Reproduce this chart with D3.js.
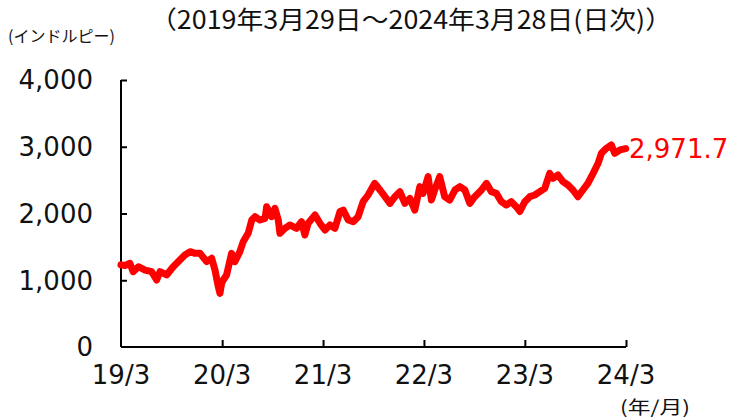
<!DOCTYPE html>
<html>
<head>
<meta charset="utf-8">
<script src="https://cdn.jsdelivr.net/npm/d3@7"></script>
<style>
  html, body { margin: 0; padding: 0; background: #fff; }
  svg { display: block; }
</style>
</head>
<body>
<svg id="chart" width="732" height="419"></svg>
<script>
// ---- data ----
const dates = [
  "2019-03-29","2019-04-12","2019-04-30","2019-05-12","2019-05-31","2019-06-24","2019-07-18","2019-08-05",
  "2019-08-17","2019-09-10","2019-10-04","2019-10-28","2019-11-15","2019-12-04","2019-12-22","2020-01-09",
  "2020-02-02","2020-02-20","2020-03-03","2020-03-15","2020-03-21","2020-03-27","2020-04-02","2020-04-14",
  "2020-05-02","2020-05-14","2020-06-01","2020-06-13","2020-07-01","2020-07-14","2020-07-26","2020-08-13",
  "2020-08-31","2020-09-06","2020-09-24","2020-10-06","2020-10-18","2020-10-24","2020-11-11","2020-11-29",
  "2020-12-23","2021-01-10","2021-01-22","2021-02-03","2021-02-28","2021-03-18","2021-04-05","2021-04-23",
  "2021-05-11","2021-05-29","2021-06-10","2021-06-28","2021-07-16","2021-08-03","2021-08-21","2021-09-08",
  "2021-10-02","2021-10-21","2021-11-08","2021-11-26","2021-12-14","2022-01-01","2022-01-19","2022-02-06",
  "2022-02-24","2022-03-14","2022-03-26","2022-04-13","2022-04-25","2022-05-07","2022-05-25","2022-06-12",
  "2022-06-30","2022-07-19","2022-08-06","2022-08-24","2022-09-11","2022-09-29","2022-10-23","2022-11-10",
  "2022-11-28","2022-12-16","2023-01-03","2023-01-21","2023-02-08","2023-02-26","2023-03-11","2023-03-29",
  "2023-04-16","2023-05-04","2023-05-22","2023-06-09","2023-06-27","2023-07-09","2023-07-27","2023-08-14",
  "2023-09-01","2023-09-19","2023-10-07","2023-10-25","2023-11-12","2023-12-01","2023-12-19","2023-12-31",
  "2024-01-18","2024-02-05","2024-02-17","2024-03-07","2024-03-28"
];
const values = [
  1230,1220,1254,1128,1203,1153,1128,1004,
  1128,1079,1203,1303,1378,1428,1403,1403,
  1278,1329,1153,903,804,954,1004,1079,
  1403,1278,1428,1577,1703,1902,1952,1902,
  1927,2102,1952,2077,1902,1703,1778,1828,
  1778,1877,1678,1853,1977,1853,1753,1828,
  1778,2027,2052,1902,1877,1952,2177,2277,
  2452,2352,2252,2152,2252,2327,2152,2227,
  2052,2402,2302,2552,2202,2352,2552,2252,
  2202,2352,2402,2352,2152,2252,2352,2452,
  2327,2302,2177,2127,2177,2102,2030,2177,
  2252,2277,2327,2377,2602,2527,2577,2477,
  2427,2352,2252,2352,2452,2602,2752,2902,
  2977,3027,2902,2952,2971.7
];
const xTickDates = ["2019-03-29","2020-03-29","2021-03-29","2022-03-29","2023-03-29","2024-03-29"];
const xTickLabels = ["19/3","20/3","21/3","22/3","23/3","24/3"];
const yTicks = [0,1000,2000,3000,4000];
const lastLabel = "2,971.7";
const titleText = "（2019年3月29日～2024年3月28日(日次)）";
const unitText = "(インドルピー)";
const xUnitText = "(年/月)";

// ---- chart ----
(function () {
const parse = d3.timeParse("%Y-%m-%d");
const data = dates.map((d, i) => ({ date: parse(d), value: values[i] }));

const svg = d3.select("#chart");
const mLeft = 121, mRight = 626, mTop = 80, mBottom = 347;

const x = d3.scaleTime()
  .domain([parse(xTickDates[0]), parse(xTickDates[xTickDates.length - 1])])
  .range([mLeft, mRight]);
const y = d3.scaleLinear().domain([0, 4000]).range([mBottom, mTop]);

const numFont = "'DejaVu Sans', sans-serif";
const jpFont = "'Noto Sans CJK JP', sans-serif";

// y axis
const yAxis = svg.append("g")
  .attr("transform", `translate(${mLeft},0)`)
  .call(d3.axisRight(y).tickValues(yTicks).tickSize(6).tickFormat(""));
yAxis.select(".domain").attr("stroke", "#000").attr("stroke-width", 2).attr("d", `M0,${mTop}V${mBottom}`);
yAxis.selectAll(".tick line").attr("stroke", "#000").attr("stroke-width", 2)
  .filter(d => d === 0).remove();

svg.append("g").selectAll("text").data(yTicks).join("text")
  .attr("x", 93).attr("y", d => y(d))
  .attr("dy", "0.36em")
  .attr("text-anchor", "end")
  .attr("font-family", numFont).attr("font-size", 26).attr("fill", "#111")
  .text(d => d3.format(",")(d));

// x axis
const xAxis = svg.append("g")
  .attr("transform", `translate(0,${mBottom})`)
  .call(d3.axisTop(x).tickValues(xTickDates.map(parse)).tickSize(7).tickFormat(""));
xAxis.select(".domain").attr("stroke", "#000").attr("stroke-width", 2).attr("d", `M${mLeft},0H${mRight}`);
xAxis.selectAll(".tick line").attr("stroke", "#000").attr("stroke-width", 2)
  .filter((d, i) => i === 0).remove();

svg.append("g").selectAll("text").data(xTickDates).join("text")
  .attr("x", d => x(parse(d))).attr("y", 384)
  .attr("text-anchor", "middle")
  .attr("font-family", numFont).attr("font-size", 26).attr("fill", "#111")
  .text((d, i) => xTickLabels[i]);

// line
const line = d3.line().x(d => x(d.date)).y(d => y(d.value)).curve(d3.curveLinear);
svg.append("path").datum(data)
  .attr("d", line)
  .attr("fill", "none").attr("stroke", "#ff0000").attr("stroke-width", 7)
  .attr("stroke-linejoin", "round").attr("stroke-linecap", "round");

// last value label
const last = data[data.length - 1];
svg.append("text")
  .attr("x", 629).attr("y", y(last.value))
  .attr("dy", "0.36em")
  .attr("font-family", numFont).attr("font-size", 26).attr("fill", "#ff0000")
  .text(lastLabel);

// title & units
svg.append("text").attr("x", 150).attr("y", 29)
  .attr("font-family", jpFont).attr("font-size", 25).attr("fill", "#111")
  .attr("textLength", 522).attr("lengthAdjust", "spacingAndGlyphs")
  .text(titleText);
svg.append("text").attr("x", 8).attr("y", 42)
  .attr("font-family", jpFont).attr("font-size", 16).attr("fill", "#111")
  .attr("textLength", 107).attr("lengthAdjust", "spacingAndGlyphs")
  .text(unitText);
svg.append("text").attr("x", 620).attr("y", 414)
  .attr("font-family", jpFont).attr("font-size", 18).attr("fill", "#111")
  .attr("textLength", 70).attr("lengthAdjust", "spacingAndGlyphs")
  .text(xUnitText);
})();
</script>
</body>
</html>
